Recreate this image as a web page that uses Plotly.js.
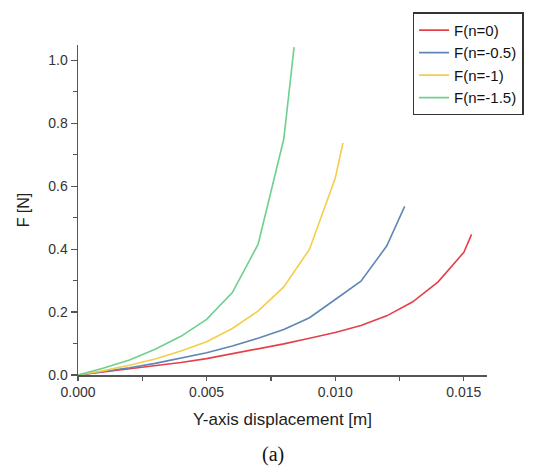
<!DOCTYPE html>
<html>
<head>
<meta charset="utf-8">
<script src="https://cdn.plot.ly/plotly-3.0.1.min.js"></script>
<style>html,body{margin:0;padding:0;background:#fff;}#chart{width:538px;height:466px;}</style>
</head>
<body>
<div id="chart"></div>
<script>
var seriesNames = ['F(n=0)', 'F(n=-0.5)', 'F(n=-1)', 'F(n=-1.5)'];
var xN0 = [0, 0.001, 0.002, 0.003, 0.004, 0.005, 0.006, 0.007, 0.008, 0.009, 0.010, 0.011, 0.012, 0.013, 0.014, 0.015, 0.0153];
var yN0 = [0, 0.010, 0.019, 0.029, 0.040, 0.052, 0.067, 0.083, 0.099, 0.117, 0.135, 0.157, 0.188, 0.232, 0.296, 0.390, 0.447];
var xN05 = [0, 0.001, 0.002, 0.003, 0.004, 0.005, 0.006, 0.007, 0.008, 0.009, 0.010, 0.011, 0.012, 0.0127];
var yN05 = [0, 0.011, 0.023, 0.037, 0.053, 0.071, 0.092, 0.117, 0.145, 0.182, 0.240, 0.298, 0.410, 0.536];
var xN1 = [0, 0.001, 0.002, 0.003, 0.004, 0.005, 0.006, 0.007, 0.008, 0.009, 0.010, 0.0103];
var yN1 = [0, 0.014, 0.031, 0.051, 0.076, 0.106, 0.148, 0.203, 0.280, 0.400, 0.625, 0.738];
var xN15 = [0, 0.001, 0.002, 0.003, 0.004, 0.005, 0.006, 0.007, 0.008, 0.0084];
var yN15 = [0, 0.022, 0.048, 0.082, 0.123, 0.177, 0.262, 0.415, 0.750, 1.042];
var colors = ['#e5404a', '#5f86b6', '#f5cd4a', '#6fcf8f'];
var xs = [xN0, xN05, xN1, xN15];
var ys = [yN0, yN05, yN1, yN15];

var traces = seriesNames.map(function (n, i) {
  return {x: xs[i], y: ys[i], name: n, type: 'scatter', mode: 'lines',
          line: {color: colors[i], width: 1.6}};
});

var font = '"Liberation Sans", Arial, sans-serif';
var layout = {
  width: 538, height: 466,
  margin: {l: 78, r: 51, t: 45, b: 90.5, pad: 0},
  paper_bgcolor: '#fff', plot_bgcolor: '#fff',
  font: {family: font, color: '#333', size: 14},
  showlegend: true,
  legend: {x: 0.818, y: 1.099, xanchor: 'left', yanchor: 'top',
           bordercolor: '#333', borderwidth: 1.5, bgcolor: '#fff',
           font: {size: 15, color: '#111', family: font}, tracegroupgap: 0},
  xaxis: {range: [0, 0.0159], tickvals: [0, 0.005, 0.010, 0.015],
          ticktext: ['0.000', '0.005', '0.010', '0.015'],
          showgrid: false, zeroline: false, showline: true, linecolor: '#555', linewidth: 1.5,
          ticks: 'outside', ticklen: 4, tickwidth: 1.2, tickcolor: '#555',
          minor: {tickvals: [0.0025, 0.0075, 0.0125], ticks: 'outside', ticklen: 4, tickwidth: 1.2, tickcolor: '#555'},
          tickfont: {size: 14, color: '#333'},
          title: {text: 'Y-axis displacement [m]', font: {size: 17, color: '#222'}, standoff: 14}},
  yaxis: {range: [0, 1.049], tickvals: [0, 0.2, 0.4, 0.6, 0.8, 1.0],
          ticktext: ['0.0', '0.2', '0.4', '0.6', '0.8', '1.0'],
          showgrid: false, zeroline: false, showline: true, linecolor: '#555', linewidth: 1.5,
          ticks: 'outside', ticklen: 6, tickwidth: 1.2, tickcolor: '#555',
          minor: {tickvals: [0.1, 0.3, 0.5, 0.7, 0.9], ticks: 'outside', ticklen: 4, tickwidth: 1.2, tickcolor: '#555'},
          tickfont: {size: 14, color: '#333'},
          title: {text: 'F [N]', font: {size: 16, color: '#222'}, standoff: 14}},
  annotations: [{text: '(a)', xref: 'paper', yref: 'paper', x: 0.477, y: -0.24,
                 xanchor: 'center', yanchor: 'middle', showarrow: false,
                 font: {family: '"Liberation Serif", "Times New Roman", serif', size: 20, color: '#111'}}]
};

Plotly.newPlot('chart', traces, layout, {displayModeBar: false, staticPlot: true});
</script>
</body>
</html>
